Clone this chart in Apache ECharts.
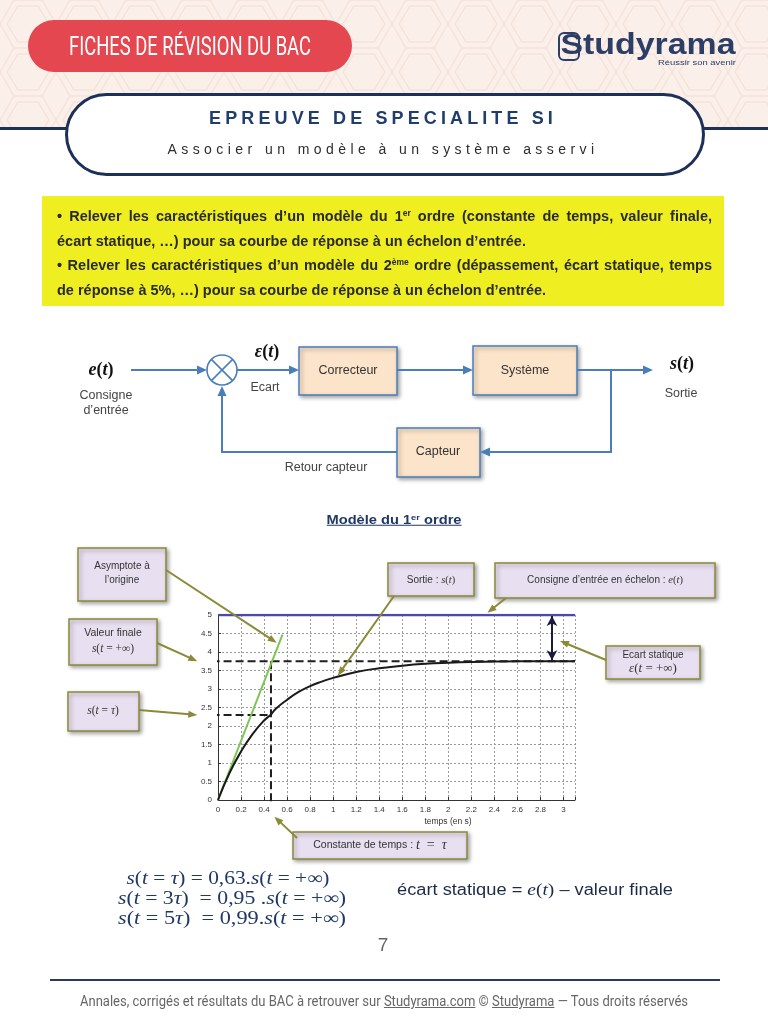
<!DOCTYPE html>
<html lang="fr">
<head>
<meta charset="utf-8">
<title>Modèle du 1er ordre</title>
<script src="https://cdn.jsdelivr.net/npm/echarts@6.0.0/dist/echarts.min.js"></script>
<style>
html,body{margin:0;padding:0;background:#fff;}
#page{position:relative;width:768px;height:1024px;overflow:hidden;background:#fff;font-family:"Liberation Sans",Arial,sans-serif;}
.abs{position:absolute;}
.t{position:absolute;white-space:nowrap;line-height:1;z-index:2;}
#chart{position:absolute;left:0;top:0;width:768px;height:1024px;z-index:1;}
.m{font-family:"Liberation Serif","DejaVu Serif",serif;}
.m i{font-style:italic;}
.y{color:#2a2a2a;font-weight:bold;font-size:14.5px;}
</style>
</head>
<body>
<div id="page">
  <svg class="abs" style="left:0;top:0" width="768" height="129">
    <defs>
      <pattern id="hex" width="56" height="48" patternUnits="userSpaceOnUse">
        <path d="M0 24 L14 0 L42 0 L56 24 L42 48 L14 48 Z M7 24 L18 6 L38 6 L49 24 L38 42 L18 42 Z" fill="none" stroke="#f5e4db" stroke-width="1.5"/>
      </pattern>
    </defs>
    <rect width="768" height="129" fill="#fbefe9"/>
    <rect width="768" height="129" fill="url(#hex)"/>
  </svg>
  <div class="abs" style="left:0;top:127px;width:768px;height:3px;background:#1d3158"></div>
  <div class="abs" style="left:65px;top:93px;width:640px;height:83px;box-sizing:border-box;border:3px solid #1d3158;border-radius:42px;background:#fff"></div>
  <div class="abs" style="left:28px;top:20px;width:324px;height:52px;border-radius:26px;background:#e4474f"></div>
  <div class="abs" style="left:558px;top:32px;width:22px;height:29px;box-sizing:border-box;border:2.5px solid #2d3e66;border-radius:6px"></div>
  <div class="abs" style="left:42px;top:196px;width:682px;height:110px;background:#efee20"></div>
  <div class="abs" style="left:50px;top:979px;width:670px;height:2px;background:#2b3a5c"></div>

  <div id="chart"></div>

  <div class="t" data-cx="190" data-cy="46" data-w="242" data-mode="scale" style="color:#fff;font-family:Roboto,'Liberation Sans',sans-serif;font-size:25px;">FICHES DE RÉVISION DU BAC</div>
  <div class="t" data-cx="648" data-cy="44" data-w="175" data-mode="scale" style="color:#2d3e66;font-weight:bold;font-size:29px;">Studyrama</div>
  <div class="t" data-cx="697" data-cy="63" data-w="78" data-mode="scale" style="color:#2d3e66;font-size:8px;">Réussir son avenir</div>
  <div class="t" data-cx="383" data-cy="118" data-w="348" data-mode="spacing" style="color:#1f3e6d;font-weight:bold;font-size:18px;">EPREUVE DE SPECIALITE SI</div>
  <div class="t" data-cx="383" data-cy="149" data-w="431" data-mode="spacing" style="color:#2d2d2d;font-size:14px;">Associer un modèle à un système asservi</div>

  <div class="t y" data-cx="57" data-cy="216" data-w="655" data-mode="words" data-anchor="left">• Relever les caractéristiques d’un modèle du 1<sup style="font-size:8.5px;vertical-align:5px;line-height:0">er</sup> ordre (constante de temps, valeur finale,</div>
  <div class="t y" data-cx="57" data-cy="241" data-w="0" data-mode="none" data-anchor="left">écart statique, …) pour sa courbe de réponse à un échelon d’entrée.</div>
  <div class="t y" data-cx="57" data-cy="265" data-w="655" data-mode="words" data-anchor="left">• Relever les caractéristiques d’un modèle du 2<sup style="font-size:8.5px;vertical-align:5px;line-height:0">ème</sup> ordre (dépassement, écart statique, temps</div>
  <div class="t y" data-cx="57" data-cy="290" data-w="0" data-mode="none" data-anchor="left">de réponse à 5%, …) pour sa courbe de réponse à un échelon d’entrée.</div>

  <div class="t" data-cx="394" data-cy="520" data-w="135" data-mode="scale" style="color:#1f3864;font-weight:bold;font-size:12.5px;text-decoration:underline;">Modèle du 1<sup style="font-size:8px;vertical-align:4px;line-height:0">er</sup> ordre</div>

  <div class="t m" data-cx="228" data-cy="878" data-w="203" data-mode="scale" style="color:#1f3864;font-size:18px;"><i>s</i>(<i>t</i> = <i>τ</i>) = 0,63.<i>s</i>(<i>t</i> = +∞)</div>
  <div class="t m" data-cx="232" data-cy="898" data-w="228" data-mode="scale" style="color:#1f3864;font-size:18px;"><i>s</i>(<i>t</i> = 3<i>τ</i>)&nbsp; = 0,95 .<i>s</i>(<i>t</i> = +∞)</div>
  <div class="t m" data-cx="232" data-cy="918" data-w="228" data-mode="scale" style="color:#1f3864;font-size:18px;"><i>s</i>(<i>t</i> = 5<i>τ</i>)&nbsp; = 0,99.<i>s</i>(<i>t</i> = +∞)</div>
  <div class="t" data-cx="397" data-cy="889" data-w="276" data-mode="scale" data-anchor="left" style="color:#1c2a4a;font-size:16px;">écart statique = <span class="m" style="font-size:17px"><i>e</i>(<i>t</i>)</span> – valeur finale</div>

  <div class="t" data-cx="383" data-cy="944" data-w="0" data-mode="none" style="color:#666;font-size:19px;">7</div>
  <div class="t" data-cx="384" data-cy="1001" data-w="608" data-mode="scale" style="color:#666;font-family:Roboto,'Liberation Sans',sans-serif;font-size:14px;">Annales, corrigés et résultats du BAC à retrouver sur <u>Studyrama.com</u> © <u>Studyrama</u> — Tous droits réservés</div>
</div>

<script>
// ---------- data ----------
const timeS   = [0, 0.1, 0.2, 0.3, 0.4, 0.46, 0.5, 0.6, 0.7, 0.8, 0.9, 1.0, 1.2, 1.4, 1.6, 1.8, 2.0, 2.2, 2.4, 2.6, 2.8, 3.0, 3.1];
const outputS = [0, 0.73, 1.31, 1.78, 2.15, 2.31, 2.46, 2.71, 2.92, 3.08, 3.20, 3.30, 3.46, 3.56, 3.63, 3.68, 3.71, 3.73, 3.74, 3.75, 3.75, 3.75, 3.75];
const stepTime  = [0, 3.1];
const stepValue = [5, 5];
const tangentTime  = [0, 0.56];
const tangentValue = [0, 4.47];
const finalValue = 3.75;
const tau = 0.46;
const sAtTau = 2.3;
const ecartTime = 2.9;
const guideStartTime = -0.16;
const tauGuideBottom = -0.12;
const xTickLabels = ['0','0.2','0.4','0.6','0.8','1','1.2','1.4','1.6','1.8','2','2.2','2.4','2.6','2.8','3'];
const yTickLabels = ['0','0.5','1','1.5','2','2.5','3','3.5','4','4.5','5'];

// ---------- HTML text fitting ----------
document.querySelectorAll('.t').forEach(el => {
  const cx = +el.dataset.cx, cy = +el.dataset.cy, w = +el.dataset.w;
  const mode = el.dataset.mode || 'none', anchor = el.dataset.anchor || 'center';
  const nat = el.getBoundingClientRect().width;
  let sx = 1;
  if (mode === 'spacing') {
    const n = el.textContent.length;
    el.style.letterSpacing = ((w - nat) / n) + 'px';
  } else if (mode === 'scale') {
    sx = w / nat;
  } else if (mode === 'words') {
    const n = (el.textContent.match(/ /g) || []).length;
    el.style.wordSpacing = ((w - nat) / n) + 'px';
  }
  el.style.left = cx + 'px';
  el.style.top = cy + 'px';
  if (anchor === 'center') {
    el.style.transform = 'translate(-50%,-50%) scaleX(' + sx + ')';
  } else {
    el.style.transformOrigin = '0 50%';
    el.style.transform = 'translateY(-50%) scaleX(' + sx + ')';
  }
});

// ---------- chart ----------
const chart = echarts.init(document.getElementById('chart'), null, {renderer: 'canvas'});
const FONT = 'Liberation Sans';
const SERIF = 'Liberation Serif';
const pairs = (xs, ys) => xs.map((x, i) => [x, ys[i]]);

const option = {
  animation: false,
  grid: {left: 218, top: 615, width: 357, height: 185, containLabel: false, outerBoundsMode: 'none'},
  xAxis: {
    type: 'value', min: 0, max: 3.1, interval: 0.2,
    axisLine: {onZero: false, lineStyle: {color: '#333', width: 1}},
    axisTick: {show: true, inside: true, length: 3, lineStyle: {color: '#333'}},
    axisLabel: {fontSize: 8, color: '#333', margin: 6, fontFamily: FONT, showMaxLabel: true,
      formatter: v => { const i = Math.round(v / 0.2); return Math.abs(i * 0.2 - v) < 1e-6 && xTickLabels[i] !== undefined ? xTickLabels[i] : ''; }},
    splitLine: {show: true, lineStyle: {color: '#9a9a9a', width: 1, type: [2, 2]}}
  },
  yAxis: {
    type: 'value', min: 0, max: 5, interval: 0.5,
    axisLine: {show: true, onZero: false, lineStyle: {color: '#333', width: 1}},
    axisTick: {show: true, inside: true, length: 3, lineStyle: {color: '#333'}},
    axisLabel: {fontSize: 8, color: '#333', margin: 6, fontFamily: FONT,
      formatter: v => { const i = Math.round(v / 0.5); return yTickLabels[i] !== undefined ? yTickLabels[i] : ''; }},
    splitLine: {show: true, lineStyle: {color: '#9a9a9a', width: 1, type: [2, 2]}}
  },
  series: [
    {type: 'line', name: 'Consigne e(t)', data: pairs(stepTime, stepValue), symbol: 'none',
     lineStyle: {color: '#4b4aa6', width: 2.5}, z: 3, silent: true,
     markLine: {silent: true, symbol: ['arrow', 'arrow'], symbolSize: [8, 10], label: {show: false},
       lineStyle: {color: '#1b1b3c', width: 2, type: 'solid'},
       data: [[{coord: [ecartTime, finalValue + 0.03]}, {coord: [ecartTime, 4.97]}]]}},
    {type: 'line', name: 'Valeur finale', data: [[guideStartTime, finalValue], [stepTime[1], finalValue]], symbol: 'none',
     clip: false, lineStyle: {color: '#1e1e1e', width: 2, type: [8, 4]}, z: 4, silent: true},
    {type: 'line', name: 's(tau)', data: [[guideStartTime, sAtTau], [tau, sAtTau]], symbol: 'none',
     clip: false, lineStyle: {color: '#1e1e1e', width: 2, type: [8, 4]}, z: 4, silent: true},
    {type: 'line', name: 'tau', data: [[tau, finalValue], [tau, tauGuideBottom]], symbol: 'none',
     clip: false, lineStyle: {color: '#1e1e1e', width: 2, type: [8, 4]}, z: 4, silent: true},
    {type: 'line', name: 'Asymptote', data: pairs(tangentTime, tangentValue), symbol: 'none',
     lineStyle: {color: '#7cc653', width: 2}, z: 5, silent: true},
    {type: 'line', name: 'Sortie s(t)', data: pairs(timeS, outputS), symbol: 'none', smooth: true,
     lineStyle: {color: '#1a1a1a', width: 2}, z: 6, silent: true}
  ]
};
chart.setOption(option);

// ---------- annotations & block diagram ----------
const px = p => chart.convertToPixel({gridIndex: 0}, p);
const G = [];
function arrow(x1, y1, x2, y2, color, lw, hl, hw) {
  const dx = x2 - x1, dy = y2 - y1, L = Math.hypot(dx, dy), ux = dx / L, uy = dy / L;
  const bx = x2 - ux * hl, by = y2 - uy * hl, nx = -uy, ny = ux;
  G.push({type: 'line', silent: true, z: 100, shape: {x1, y1, x2: bx + ux, y2: by + uy}, style: {stroke: color, lineWidth: lw}});
  G.push({type: 'polygon', silent: true, z: 100, shape: {points: [[x2, y2], [bx + nx * hw / 2, by + ny * hw / 2], [bx - nx * hw / 2, by - ny * hw / 2]]}, style: {fill: color}});
}
function box(x, y, w, h, fill, stroke) {
  G.push({type: 'rect', silent: true, z: 90, shape: {x, y, width: w, height: h},
    style: {fill, stroke, lineWidth: 1.5, shadowBlur: 4, shadowOffsetX: 2, shadowOffsetY: 2, shadowColor: 'rgba(0,0,0,0.35)'}});
}
function text(x, y, t, size, color, opts) {
  const o = opts || {};
  G.push({type: 'text', silent: true, z: 110, x, y, style: Object.assign({
    text: t, fontSize: size, fontFamily: o.family || FONT, fontStyle: o.style || 'normal', fontWeight: o.weight || 'normal',
    fill: color, align: o.align || 'center', verticalAlign: 'middle', textAlign: o.align || 'center', textVerticalAlign: 'middle'
  }, o.rich ? {rich: o.rich} : {})});
}
function richMath(x, y, t, sansSize, mathSize, color, weight) {
  const w = weight || 'normal';
  text(x, y, t, sansSize, color, {rich: {
    a: {fontSize: sansSize, fontFamily: FONT, fill: color, color},
    v: {fontSize: mathSize, fontFamily: SERIF, fontStyle: 'italic', fontWeight: w, fill: color, color},
    p: {fontSize: mathSize, fontFamily: SERIF, fontWeight: w, fill: color, color}
  }});
}

// block diagram
const BLUE = '#4a7ebb', PEACH = '#fbe4c9';
richMath(101, 370, '{v|e}{p|(}{v|t}{p|)}', 17, 18, '#111', 'bold');
text(106, 396, 'Consigne', 12.5, '#444');
text(106, 411, 'd’entrée', 12.5, '#444');
arrow(131, 370, 207, 370, BLUE, 2, 10, 9);
G.push({type: 'circle', silent: true, z: 100, shape: {cx: 222, cy: 370, r: 15}, style: {fill: '#fff', stroke: BLUE, lineWidth: 1.6}});
G.push({type: 'line', silent: true, z: 101, shape: {x1: 211.4, y1: 359.4, x2: 232.6, y2: 380.6}, style: {stroke: BLUE, lineWidth: 1.6}});
G.push({type: 'line', silent: true, z: 101, shape: {x1: 211.4, y1: 380.6, x2: 232.6, y2: 359.4}, style: {stroke: BLUE, lineWidth: 1.6}});
richMath(267, 352, '{v|ε}{p|(}{v|t}{p|)}', 17, 18, '#111', 'bold');
text(265, 388, 'Ecart', 12.5, '#444');
arrow(237, 370, 299, 370, BLUE, 2, 10, 9);
box(299, 347, 98, 48, PEACH, BLUE);
text(348, 371, 'Correcteur', 12.5, '#333');
arrow(397, 370, 473, 370, BLUE, 2, 10, 9);
box(473, 346, 104, 49, PEACH, BLUE);
text(525, 371, 'Système', 12.5, '#333');
arrow(577, 370, 653, 370, BLUE, 2, 10, 9);
richMath(682, 364, '{v|s}{p|(}{v|t}{p|)}', 17, 18, '#111', 'bold');
text(681, 394, 'Sortie', 12.5, '#444');
G.push({type: 'polyline', silent: true, z: 100, shape: {points: [[611, 370], [611, 452], [490, 452]]}, style: {stroke: BLUE, lineWidth: 2, fill: null}});
arrow(495, 452, 480, 452, BLUE, 2, 10, 9);
box(397, 428, 83, 49, PEACH, BLUE);
text(438, 452, 'Capteur', 12.5, '#333');
G.push({type: 'polyline', silent: true, z: 100, shape: {points: [[397, 452], [222, 452], [222, 398]]}, style: {stroke: BLUE, lineWidth: 2, fill: null}});
arrow(222, 400, 222, 386, BLUE, 2, 10, 9);
text(326, 468, 'Retour capteur', 12.5, '#444');

// chart callouts
const OLIVE = '#8a8a3a', LAV = '#e8dff0', CT = '#333';
text(448, 822, 'temps (en s)', 8.5, '#333');

box(78, 548, 88, 53, LAV, OLIVE);
text(122, 566, 'Asymptote à', 10, CT);
text(122, 580, 'l’origine', 10, CT);
let p = px([0.51, 4.25]); arrow(166, 570, p[0], p[1], OLIVE, 2, 9, 7);

box(69, 619, 88, 46, LAV, OLIVE);
text(113, 633, 'Valeur finale', 10.5, CT);
richMath(113, 649, '{v|s}{p|(}{v|t}{p| = +∞)}', 10, 11.5, CT);
p = px([-0.18, finalValue]); arrow(157, 643, p[0], p[1], OLIVE, 2, 9, 7);

box(68, 692, 71, 39, LAV, OLIVE);
richMath(103, 711, '{v|s}{p|(}{v|t}{p| = }{v|τ}{p|)}', 10, 11.5, CT);
p = px([-0.18, sAtTau]); arrow(139, 710, p[0], p[1], OLIVE, 2, 9, 7);

box(388, 563, 86, 33, LAV, OLIVE);
richMath(431, 580, '{a|Sortie : }{v|s}{p|(}{v|t}{p|)}', 10, 10.5, CT);
p = px([1.04, 3.36]); arrow(394, 596, p[0], p[1], OLIVE, 2, 9, 7);

box(495, 563, 220, 35, LAV, OLIVE);
richMath(605, 580, '{a|Consigne d’entrée en échelon : }{v|e}{p|(}{v|t}{p|)}', 10, 10.5, CT);
p = px([2.34, 5.06]); arrow(506, 598, p[0], p[1], OLIVE, 2, 9, 7);

box(606, 646, 94, 33, LAV, OLIVE);
text(653, 655, 'Ecart statique', 10, CT);
richMath(653, 669, '{v|ε}{p|(}{v|t}{p| = +∞)}', 10, 13, CT);
p = px([2.97, 4.3]); arrow(606, 660, p[0], p[1], OLIVE, 2, 9, 7);

box(293, 832, 174, 27, LAV, OLIVE);
richMath(380, 845, '{a|Constante de temps : }{v|t}{p|  =  }{v|τ}', 10.5, 14, CT);
p = px([0.49, -0.45]); arrow(297, 838, p[0], p[1], OLIVE, 2, 9, 7);

chart.setOption({graphic: {elements: G}});
</script>
</body>
</html>
